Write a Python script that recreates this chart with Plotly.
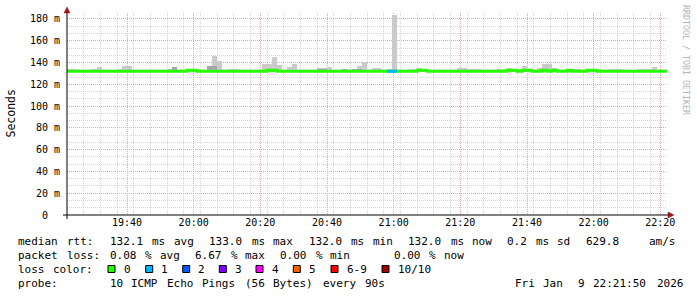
import plotly.graph_objects as go
from datetime import datetime, timedelta

# ---------------- data ----------------
start = datetime(2026, 1, 9, 19, 22, 0)
end = datetime(2026, 1, 9, 22, 22, 0)
step_s = 90

smoke_max = [
    134, 134, 133, 133, 133, 134, 136, 133, 133, 133,
    134, 137, 137, 133, 133.5, 133.5, 133.5, 133.5, 133, 133,
    134, 136, 133, 133, 133, 133, 133.5, 133.5, 137, 146,
    141, 133, 134, 134, 133, 133, 133.5, 133.5, 133, 139,
    139, 145, 138, 133, 136, 139, 133, 133, 133, 133,
    135, 135, 136, 133, 133, 134.5, 133, 134.5, 137, 140.5,
    133, 135, 135, 133, 134, 184, 133, 133, 134, 134,
    135, 133, 133, 133, 133, 133, 133, 133, 135, 135,
    134, 134, 134, 133, 133, 133, 134, 134, 135, 133,
    133.5, 137, 133, 133, 135, 139, 139, 135, 133, 133,
    133, 134, 134, 133, 133, 133, 133, 133, 134, 134,
    134, 133, 133, 133, 134, 134, 134, 136, 133, 133,
]
smoke_mid = [
    132, 132, 133.3, 133.3, 132, 132, 132, 132, 132, 132,
    132, 132, 132, 132, 132, 132, 132, 132, 132, 132,
    132, 135.5, 132, 132, 132, 132, 133.3, 133.3, 137, 137,
    132, 132, 132, 132, 132, 132, 132, 132, 132, 132,
    132, 132, 132, 132, 132, 132, 132, 132, 132, 132,
    134.5, 134.5, 132, 132, 132, 134, 132, 134, 134, 132,
    132, 132, 132, 132, 132, 132, 132, 132, 132, 132,
    132, 132, 132, 132, 132, 132, 132, 132, 132, 132,
    132, 132, 132, 132, 132, 132, 132, 132, 132, 132,
    133.3, 132, 132, 132, 132, 132, 132, 132, 132, 132,
    132, 132, 132, 132, 132, 132, 132, 132, 133.3, 133.3,
    132, 132, 132, 132, 133.5, 133.5, 133.5, 132, 132, 132,
]
smoke_min = [
    131.5, 131.5, 131.5, 131.5, 131.5, 131.5, 131.5, 131.5, 131.5, 131.5,
    131.5, 131.5, 131.5, 131.5, 131.5, 131.5, 131.5, 131.5, 131.5, 131.5,
    131.5, 131.5, 131.5, 131.5, 131.5, 131.5, 131.5, 131.5, 131.5, 131.5,
    131.5, 131.5, 131.5, 131.5, 131.5, 131.5, 131.5, 131.5, 131.5, 131.5,
    131.5, 131.5, 131.5, 131.5, 131.5, 131.5, 131.5, 131.5, 131.5, 131.5,
    131.5, 131.5, 131.5, 131.5, 131.5, 131.5, 131.5, 131.5, 131.5, 131.5,
    131.5, 131.5, 131.5, 131.5, 131.5, 131.5, 131.5, 131.5, 131.5, 131.5,
    131.5, 131.5, 131.5, 131.5, 131.5, 131.5, 131.5, 131.5, 131.5, 131.5,
    131.5, 131.5, 131.5, 131.5, 131.5, 131.5, 131.5, 131.5, 131.5, 131.5,
    131.5, 131.5, 131.5, 131.5, 131.5, 131.5, 131.5, 131.5, 131.5, 131.5,
    131.5, 131.5, 131.5, 131.5, 131.5, 131.5, 131.5, 131.5, 131.5, 131.5,
    131.5, 131.5, 131.5, 131.5, 131.5, 131.5, 131.5, 131.5, 131.5, 131.5,
]
median = [
    132, 132, 132, 132, 132, 132, 132, 132, 132, 132,
    132, 132, 132, 132, 132, 132, 132, 132, 132, 132,
    132, 132, 132, 132, 133, 133, 132, 132, 132, 132,
    132, 132, 132, 132, 132, 132, 132, 132, 132, 132,
    133, 133, 132, 132, 132, 132, 132, 132, 132, 132,
    132, 132, 132, 132, 132, 132, 132, 132, 132, 132,
    132, 132, 132, 132, 132, 132, 132, 132, 132, 132,
    133, 133, 132, 132, 132, 132, 132, 132, 132, 132,
    132, 132, 132, 132, 132, 132, 132, 132, 133, 133,
    132, 133, 133, 132, 132, 133, 132, 133, 132, 132,
    133, 132, 132, 132, 133, 133, 132, 132, 132, 132,
    132, 132, 132, 132, 132, 132, 132, 132, 132, 132,
]
loss = [
    0, 0, 0, 0, 0, 0, 0, 0, 0, 0,
    0, 0, 0, 0, 0, 0, 0, 0, 0, 0,
    0, 0, 0, 0, 0, 0, 0, 0, 0, 0,
    0, 0, 0, 0, 0, 0, 0, 0, 0, 0,
    0, 0, 0, 0, 0, 0, 0, 0, 0, 0,
    0, 0, 0, 0, 0, 0, 0, 0, 0, 0,
    0, 0, 0, 0, 1, 1, 0, 0, 0, 0,
    0, 0, 0, 0, 0, 0, 0, 0, 0, 0,
    0, 0, 0, 0, 0, 0, 0, 0, 0, 0,
    0, 0, 0, 0, 0, 0, 0, 0, 0, 0,
    0, 0, 0, 0, 0, 0, 0, 0, 0, 0,
    0, 0, 0, 0, 0, 0, 0, 0, 0, 0,
]

y_tick_vals = [0, 20, 40, 60, 80, 100, 120, 140, 160, 180]
y_tick_text = ["0\u00a0\u00a0", "20 m", "40 m", "60 m", "80 m", "100 m",
               "120 m", "140 m", "160 m", "180 m"]
x_tick_labels = ["19:40", "20:00", "20:20", "20:40", "21:00",
                 "21:20", "21:40", "22:00", "22:20"]

loss_labels = ["0", "1", "2", "3", "4", "5", "6-9", "10/10"]
loss_colors = ["#26ff00", "#00b8ff", "#0059ff", "#7e00ff",
               "#ff00ff", "#ff5e00", "#ff0000", "#a10000"]

legend_row1 = "median rtt:  132.1 ms avg  133.0 ms max  132.0 ms min  132.0 ms now  0.2 ms sd  629.8    am/s"
legend_row2 = "packet loss: 0.08 % avg  6.67 % max  0.00 % min      0.00 % now"
legend_row4 = "probe:       10 ICMP Echo Pings (56 Bytes) every 90s"
stamp = "Fri Jan  9 22:21:50 2026"
watermark = "RRDTOOL / TOBI OETIKER"
y_title = "Seconds"

# ---------------- geometry ----------------
W, H = 697, 297
L, R, T, B = 67, 30, 13, 82
PW, PH = W - L - R, H - T - B
MONO = "DejaVu Sans Mono"


def xp(px):
    return (px - L) / PW


def yp(py):
    return (T + PH - py) / PH


n = len(median)
t_start = [start + timedelta(seconds=step_s * i) for i in range(n)]
t_mid = [t + timedelta(seconds=step_s / 2) for t in t_start]

fig = go.Figure()

fig.add_trace(go.Bar(
    x=t_mid, base=smoke_min, y=[a - b for a, b in zip(smoke_max, smoke_min)],
    width=step_s * 1000, marker=dict(color="#cacaca", line=dict(width=0)),
    hoverinfo="skip", showlegend=False))
fig.add_trace(go.Bar(
    x=t_mid, base=smoke_min, y=[a - b for a, b in zip(smoke_mid, smoke_min)],
    width=step_s * 1000, marker=dict(color="#a8a8a8", line=dict(width=0)),
    hoverinfo="skip", showlegend=False))

# median line, colored by loss
line_x = t_start + [end]
line_y = median + [median[-1]]
fig.add_trace(go.Scatter(x=line_x, y=line_y, mode="lines", line_shape="hv",
                         line=dict(color=loss_colors[0], width=3),
                         hoverinfo="skip", showlegend=False))
for lv in sorted(set(loss)):
    if lv == 0:
        continue
    xs, ys = [], []
    for i in range(n):
        if loss[i] == lv:
            xs += [t_start[i], t_start[i] + timedelta(seconds=step_s), None]
            ys += [median[i], median[i], None]
    fig.add_trace(go.Scatter(x=xs, y=ys, mode="lines",
                             line=dict(color=loss_colors[lv], width=3),
                             hoverinfo="skip", showlegend=False))

x_tick_vals = [datetime(2026, 1, 9, int(s[:2]), int(s[3:])) for s in x_tick_labels]

grid_major = "#e6a6a6"
grid_minor = "#d6d6d6"

fig.update_layout(
    width=W, height=H,
    margin=dict(l=L, r=R, t=T, b=B, pad=0),
    paper_bgcolor="white", plot_bgcolor="white",
    barmode="overlay", bargap=0,
    showlegend=False,
    font=dict(family=MONO, size=10, color="black"),
    xaxis=dict(
        type="date", range=[start, end],
        tickvals=x_tick_vals, ticktext=x_tick_labels,
        showgrid=True, gridcolor=grid_major, griddash="1px,1px", gridwidth=1,
        minor=dict(dtick=300000, tick0=start, showgrid=True,
                   gridcolor=grid_minor, griddash="1px,1px", gridwidth=1),
        showline=False, zeroline=False, ticks="",
        tickfont=dict(family=MONO, size=10, color="black"),
        fixedrange=True,
    ),
    yaxis=dict(
        range=[0, 185.5],
        tickvals=y_tick_vals, ticktext=y_tick_text,
        showgrid=True, gridcolor=grid_major, griddash="1px,1px", gridwidth=1,
        minor=dict(dtick=20 / 3, tick0=0, showgrid=True,
                   gridcolor=grid_minor, griddash="1px,1px", gridwidth=1),
        showline=False, zeroline=False, ticks="",
        ticklabelstandoff=6,
        tickfont=dict(family=MONO, size=10, color="black"),
        fixedrange=True,
    ),
)

shapes = []
# axes
shapes.append(dict(type="line", xref="paper", yref="paper",
                   x0=xp(63), x1=xp(668), y0=yp(215), y1=yp(215),
                   line=dict(color="black", width=1)))
shapes.append(dict(type="line", xref="paper", yref="paper",
                   x0=xp(67), x1=xp(67), y0=yp(219), y1=yp(12),
                   line=dict(color="black", width=1)))
# arrows
arrow_col = "#9a1616"
shapes.append(dict(type="path", xref="paper", yref="paper",
                   path=f"M {xp(64)} {yp(13)} L {xp(70)} {yp(13)} L {xp(67)} {yp(7)} Z",
                   fillcolor=arrow_col, line=dict(color=arrow_col, width=0.5)))
shapes.append(dict(type="path", xref="paper", yref="paper",
                   path=f"M {xp(668)} {yp(212)} L {xp(668)} {yp(218)} L {xp(674)} {yp(215)} Z",
                   fillcolor=arrow_col, line=dict(color=arrow_col, width=0.5)))

annotations = []
CW = 7.1
TXT = 11


def place_line(text, x0, ycen):
    i = 0
    while i < len(text):
        if text[i] == " ":
            i += 1
            continue
        j = i
        while j < len(text) and text[j] != " ":
            j += 1
        annotations.append(dict(
            text=text[i:j], x=xp(x0 + i * CW - 0.5), y=yp(ycen),
            xref="paper", yref="paper", xanchor="left", yanchor="middle",
            showarrow=False, font=dict(family=MONO, size=TXT, color="black")))
        i = j


place_line(legend_row1, 16, 241)
place_line(legend_row2, 16, 255)
place_line("loss color:", 16, 269)
place_line(legend_row4, 16, 283)
place_line(stamp, 513, 283)

box_x = [108, 145.7, 182.7, 219.3, 256, 293.3, 331, 382]
for bx, lab, col in zip(box_x, loss_labels, loss_colors):
    shapes.append(dict(type="rect", xref="paper", yref="paper",
                       x0=xp(bx), x1=xp(bx + 7), y0=yp(272.5), y1=yp(265.5),
                       fillcolor=col, line=dict(color="black", width=1)))
    place_line(lab, bx + 14.2, 269)

annotations.append(dict(text=y_title, x=xp(10.5), y=yp(114), xref="paper", yref="paper",
                        xanchor="center", yanchor="middle", textangle=-90, showarrow=False,
                        font=dict(family=MONO, size=11.5, color="black")))
annotations.append(dict(text=watermark, x=xp(686), y=yp(60), xref="paper", yref="paper",
                        xanchor="center", yanchor="middle", textangle=90, showarrow=False,
                        font=dict(family=MONO, size=8.3, color="#b4b4b4")))

fig.update_layout(shapes=shapes, annotations=annotations)
fig.write_html("out.html")
